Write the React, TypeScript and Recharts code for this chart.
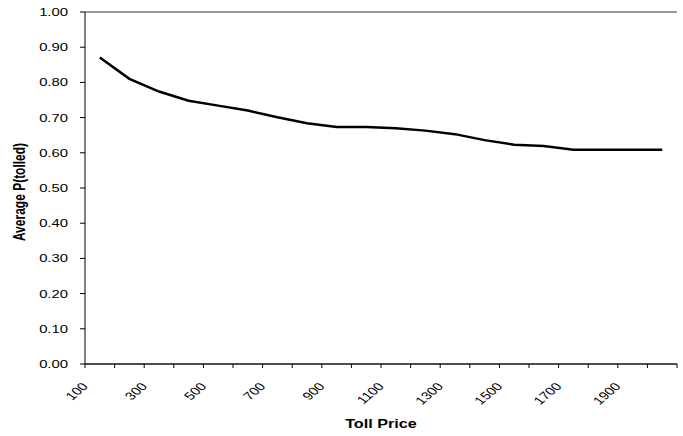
import React from 'react';
import { LineChart, Line, XAxis, YAxis, CartesianGrid, Label } from 'recharts';

// Toll price categories and the average probability of being tolled
const tollPrices = [100, 200, 300, 400, 500, 600, 700, 800, 900, 1000, 1100, 1200, 1300, 1400, 1500, 1600, 1700, 1800, 1900, 2000];
const avgTolled = [0.871, 0.81, 0.774, 0.748, 0.734, 0.72, 0.701, 0.684, 0.673, 0.673, 0.67, 0.663, 0.653, 0.636, 0.623, 0.619, 0.609, 0.609, 0.609, 0.609];
const yTicks = [0, 0.1, 0.2, 0.3, 0.4, 0.5, 0.6, 0.7, 0.8, 0.9, 1.0];

const data = tollPrices.map((price, i) => ({ price: String(price), value: avgTolled[i] }));

const WIDTH = 683;
const HEIGHT = 436;
const PLOT_LEFT = 85;
const PLOT_RIGHT = 6;
const STEP = (WIDTH - PLOT_LEFT - PLOT_RIGHT) / tollPrices.length;
const FONT = '"Liberation Sans", Arial, sans-serif';
// the original picture is stretched sideways, so the text is too
const SX = 1.35;

function PriceTick(props: any) {
  const { x, y, payload, index } = props;
  const last = index === tollPrices.length - 1;
  const ex = x - 11;
  const ey = y + 23;
  return (
    <g>
      <line x1={x - STEP / 2} x2={x - STEP / 2} y1={y} y2={y + 4} stroke="#000" />
      {last && <line x1={x + STEP / 2} x2={x + STEP / 2} y1={y} y2={y + 4} stroke="#000" />}
      {index % 2 === 0 && (
        <text
          x={0}
          y={0}
          textAnchor="end"
          transform={`translate(${ex}, ${ey}) scale(${SX}, 1) rotate(-48)`}
          fontFamily={FONT}
          fontSize={11}
          fill="#000"
        >
          {payload.value}
        </text>
      )}
    </g>
  );
}

function ValueTick(props: any) {
  const { x, y, payload } = props;
  return (
    <text
      x={0}
      y={0}
      dy={4}
      textAnchor="end"
      transform={`translate(${x}, ${y}) scale(${SX}, 1)`}
      fontFamily={FONT}
      fontSize={11}
      fill="#000"
    >
      {Number(payload.value).toFixed(2)}
    </text>
  );
}

function XTitle(props: any) {
  const { viewBox } = props;
  const cx = viewBox.x + viewBox.width / 2;
  return (
    <text x={0} y={0} textAnchor="middle" transform={`translate(${cx}, 428) scale(${SX}, 1)`}
      fontFamily={FONT} fontSize={12} fontWeight={700} fill="#000">
      Toll Price
    </text>
  );
}

function YTitle() {
  return (
    <text x={0} y={0} textAnchor="middle" transform={`translate(24.5, 192) scale(${SX}, 1) rotate(-90)`}
      fontFamily={FONT} fontSize={12} fontWeight={700} fill="#000">
      Average P(tolled)
    </text>
  );
}

export default function App() {
  return (
    <div style={{ position: 'absolute', left: 0, top: 0, background: '#fff' }}>
      <LineChart width={WIDTH} height={HEIGHT} data={data} margin={{ top: 12, right: PLOT_RIGHT, bottom: 0, left: 0 }}>
        <CartesianGrid vertical={false} stroke="#333" />
        <XAxis
          dataKey="price"
          interval={0}
          height={72}
          padding={{ left: STEP / 2, right: STEP / 2 }}
          tickSize={0}
          tickMargin={0}
          tickLine={false}
          axisLine={{ stroke: '#000' }}
          tick={<PriceTick />}
        >
          <Label content={<XTitle />} />
        </XAxis>
        <YAxis
          yAxisId="left"
          domain={[0, 1]}
          ticks={yTicks}
          width={PLOT_LEFT}
          tickSize={5}
          tickMargin={12}
          axisLine={{ stroke: '#000' }}
          tickLine={{ stroke: '#000' }}
          tick={<ValueTick />}
        >
          <Label content={<YTitle />} />
        </YAxis>
        <YAxis yAxisId="right" orientation="right" width={0} domain={[0, 1]} tick={false} tickLine={false} axisLine={{ stroke: '#999' }} />
        <Line
          yAxisId="left"
          type="linear"
          dataKey="value"
          stroke="#000"
          strokeWidth={2.5}
          dot={false}
          isAnimationActive={false}
        />
      </LineChart>
    </div>
  );
}
